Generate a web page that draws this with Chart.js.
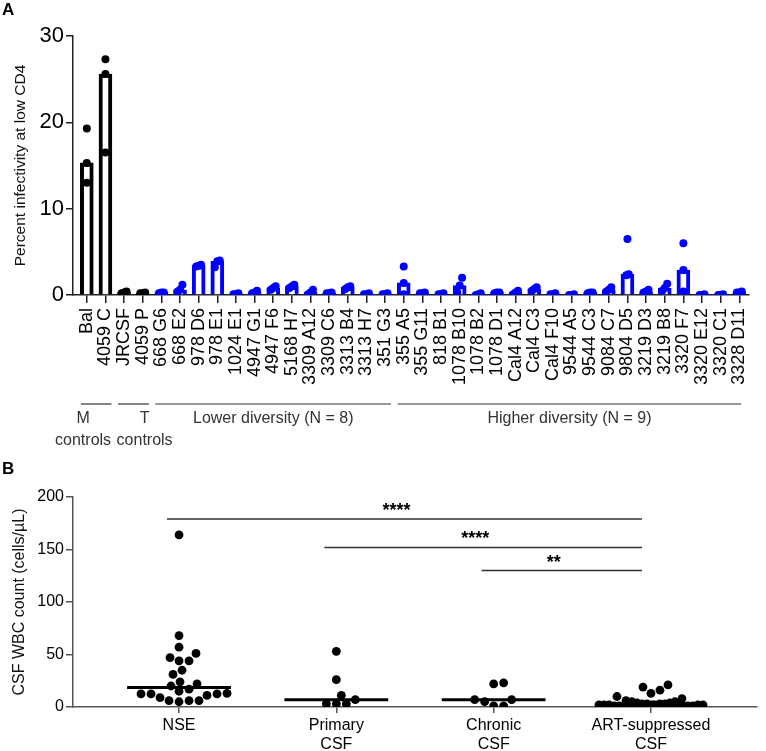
<!DOCTYPE html>
<html>
<head>
<meta charset="utf-8">
<script src="https://cdn.jsdelivr.net/npm/chart.js@4.4.1/dist/chart.umd.min.js"></script>
<style>
    html, body { margin: 0; padding: 0; background: #fff; }
    #wrap { position: relative; width: 766px; height: 751px; font-family: 'Liberation Sans', Arial, sans-serif; }
    #chartA { position: absolute; left: 0; top: 0; }
    #chartB { position: absolute; left: 0; top: 460px; }
    .panel { position: absolute; font-weight: bold; font-size: 17px; color: #000; line-height: 20px; }
</style>
</head>
<body>
<div id="wrap">
    <canvas id="chartA" width="766" height="460"></canvas>
    <canvas id="chartB" width="766" height="291"></canvas>
    <div class="panel" style="left:2px;top:0px">A</div>
    <div class="panel" style="left:2px;top:459px">B</div>
</div>
<script>
// Panel A: percent infectivity at low CD4 (3 replicates per isolate, bar = median)
const isolateLabels = ['Bal', '4059 C', 'JRCSF', '4059 P', '668 G6', '668 E2', '978 D6', '978 E1',
    '1024 E1', '4947 G1', '4947 F6', '5168 H7', '3309 A12', '3309 C6', '3313 B4', '3313 H7', '351 G3',
    '355 A5', '355 G11', '818 B1', '1078 B10', '1078 B2', '1078 D1', 'Cal4 A12', 'Cal4 C3', 'Cal4 F10',
    '9544 A5', '9544 C3', '9084 C7', '9804 D5', '3219 D3', '3219 B8', '3320 F7', '3320 E12', '3320 C1', '3328 D11'];
const rep1 = [19.3, 27.3, 0.4, 0.3, 0.3, 1.2, 3.5, 4.0, 0.2, 0.5, 1.0, 1.2, 0.6, 0.3, 1.0, 0.2, 0.2,
    3.3, 0.3, 0.2, 2.0, 0.2, 0.3, 0.5, 0.9, 0.2, 0.1, 0.3, 0.9, 6.5, 0.6, 1.3, 6.0, 0.1, 0.1, 0.4];
const rep2 = [15.3, 25.6, 0.3, 0.2, 0.3, 0.6, 3.4, 3.9, 0.1, 0.3, 0.8, 1.0, 0.3, 0.2, 0.9, 0.1, 0.1,
    1.4, 0.2, 0.1, 1.1, 0.1, 0.3, 0.3, 0.7, 0.1, 0.0, 0.3, 0.6, 2.4, 0.4, 0.8, 2.9, 0.0, 0.0, 0.3];
const rep3 = [13.0, 16.5, 0.2, 0.2, 0.2, 0.4, 3.3, 3.2, 0.1, 0.2, 0.6, 0.8, 0.1, 0.2, 0.7, 0.1, 0.1,
    0.1, 0.2, 0.1, 0.3, 0.0, 0.2, 0.1, 0.5, 0.1, 0.0, 0.2, 0.4, 2.3, 0.3, 0.5, 0.4, 0.0, 0.0, 0.3];
const yTicksA = [0, 10, 20, 30];
const controlCount = 4;
const groupsA = [
    { text: ['M', 'controls'], from: 0, to: 1 },
    { text: ['T', 'controls'], from: 2, to: 3 },
    { text: ['Lower diversity (N = 8)'], from: 4, to: 16 },
    { text: ['Higher diversity (N = 9)'], from: 17, to: 35 }
];

// Panel B: CSF WBC count
const groupLabelsB = [['NSE'], ['Primary', 'CSF'], ['Chronic', 'CSF'], ['ART-suppressed', 'CSF']];
const nseWbc = [164, 68, 57, 51, 47, 44, 44, 35, 31, 24, 22, 20, 17, 15, 13, 12.5, 12.5, 12.5, 11, 9, 6, 6, 6, 5];
const primaryWbc = [53, 26, 11, 7, 3, 3, 3];
const chronicWbc = [23, 22, 7, 7, 5, 1, 1];
const artWbc = [21, 19, 16, 13, 10, 8, 6, 5, 5, 4, 4, 3, 3, 3, 3,
    2, 2, 2, 2, 2, 2, 2, 2, 1, 1, 1, 1, 1, 1, 1, 1, 1, 1, 1, 1, 1, 1, 1, 1,
    0, 0, 0, 0, 0, 0, 0, 0, 0, 0, 0, 0, 0, 0, 0, 0, 0, 0, 0, 0, 0, 0];
const yTicksB = [0, 50, 100, 150, 200];
const comparisons = [
    { from: 0, to: 3, y: 179, stars: '****' },
    { from: 1, to: 3, y: 152, stars: '****' },
    { from: 2, to: 3, y: 130, stars: '**' }
];

Chart.defaults.font.family = "'Liberation Sans', Arial, sans-serif";
Chart.defaults.color = '#000';
Chart.defaults.animation = false;
Chart.defaults.plugins.legend.display = false;
Chart.defaults.plugins.tooltip.enabled = false;

const BLUE = '#0000ff';
const colorFor = i => i < controlCount ? '#000000' : BLUE;

function medianOf(arr) {
    const s = [...arr].sort((a, b) => a - b);
    const m = Math.floor(s.length / 2);
    return s.length % 2 ? s[m] : (s[m - 1] + s[m]) / 2;
}

// nudge replicate dots sideways when they sit on top of each other
function spreadDots(vals, closeBy, step) {
    const order = vals.map((v, k) => k).sort((a, b) => vals[a] - vals[b]);
    const offs = new Array(vals.length).fill(0);
    let cluster = [order[0]];
    const flush = () => cluster.forEach((k, j) => { offs[k] = (j - (cluster.length - 1) / 2) * step; });
    for (let j = 1; j < order.length; j++) {
        if (vals[order[j]] - vals[cluster[cluster.length - 1]] < closeBy) cluster.push(order[j]);
        else { flush(); cluster = [order[j]]; }
    }
    flush();
    return offs;
}

const replicates = isolateLabels.map((_, i) => [rep1[i], rep2[i], rep3[i]]);
const barData = replicates.map((r, i) => ({ x: i, y: medianOf(r) }));
const dotData = [];
const dotColors = [];
replicates.forEach((r, i) => {
    const offs = spreadDots(r, 0.9, 0.13);
    r.forEach((v, k) => { dotData.push({ x: i + offs[k], y: v }); dotColors.push(colorFor(i)); });
});

// group brackets under the isolate names
const groupTextAt = [-0.2, 3.1, null, null];
const groupLabelPlugin = {
    id: 'groupLabels',
    afterDraw(chart) {
        const ctx = chart.ctx;
        const xs = chart.scales.x;
        const base = chart.chartArea.bottom;
        ctx.save();
        ctx.strokeStyle = '#333';
        ctx.lineWidth = 1.2;
        ctx.fillStyle = '#333';
        ctx.font = "16px 'Liberation Sans', Arial, sans-serif";
        ctx.textAlign = 'center';
        ctx.textBaseline = 'middle';
        groupsA.forEach((g, gi) => {
            const x1 = xs.getPixelForValue(g.from) - 6;
            const x2 = Math.min(xs.getPixelForValue(g.to) + 6, xs.right - 8);
            ctx.beginPath();
            ctx.moveTo(x1, base + 109);
            ctx.lineTo(x2, base + 109);
            ctx.stroke();
            const tx = groupTextAt[gi] !== null ? xs.getPixelForValue(groupTextAt[gi]) : (x1 + x2) / 2;
            g.text.forEach((t, li) => ctx.fillText(t, tx, base + 124 + li * 22));
        });
        ctx.restore();
    }
};

new Chart(document.getElementById('chartA'), {
    type: 'bar',
    data: {
        datasets: [{
            type: 'scatter',
            data: dotData,
            pointRadius: 4,
            pointBackgroundColor: dotColors,
            pointBorderColor: dotColors,
            pointBorderWidth: 0,
            order: 0
        }, {
            data: barData,
            backgroundColor: '#ffffff',
            borderColor: isolateLabels.map((_, i) => colorFor(i)),
            borderWidth: 4,
            barThickness: 13,
            order: 1
        }]
    },
    options: {
        responsive: false,
        layout: { padding: { top: 36, right: 6, left: 0, bottom: 0 } },
        scales: {
            x: {
                type: 'linear',
                min: -0.74,
                max: 35.53,
                offset: false,
                afterBuildTicks: s => { s.ticks = isolateLabels.map((_, i) => ({ value: i })); },
                afterFit: s => { s.height = 165; },
                ticks: {
                    autoSkip: false,
                    minRotation: 90,
                    maxRotation: 90,
                    padding: 5,
                    color: '#000',
                    font: { size: 18 },
                    callback: v => isolateLabels[v]
                },
                grid: { drawOnChartArea: false, offset: false, tickLength: 8, color: '#222', lineWidth: 1.5 },
                border: { display: true, color: '#222', width: 1.5 }
            },
            y: {
                min: 0,
                max: 30,
                afterBuildTicks: s => { s.ticks = yTicksA.map(v => ({ value: v })); },
                afterFit: s => { s.width = 73; },
                ticks: { padding: 2, color: '#000', font: { size: 22 } },
                grid: { drawOnChartArea: false, tickLength: 7, color: '#222', lineWidth: 1.5 },
                border: { display: true, color: '#222', width: 1.5 },
                title: {
                    display: true,
                    text: 'Percent infectivity at low CD4',
                    color: '#111',
                    font: { size: 15.5 },
                    padding: { top: 11, bottom: 0 }
                }
            }
        }
    },
    plugins: [groupLabelPlugin]
});

// Panel B
const groupsB = [nseWbc, primaryWbc, chronicWbc, artWbc];

function swarmOffsets(vals, yScale, xScale, diameter, maxHalf) {
    const pxPerUnit = Math.abs(xScale.getPixelForValue(1) - xScale.getPixelForValue(0));
    const order = vals.map((v, k) => k).sort((a, b) => vals[a] - vals[b]);
    const placed = [];
    const out = new Array(vals.length).fill(0);
    order.forEach(k => {
        const py = yScale.getPixelForValue(vals[k]);
        let best = 0, bestGap = -1;
        for (let s = 0; s <= maxHalf * 2; s++) {
            const dx = s === 0 ? 0 : (s % 2 ? (s + 1) / 2 : -s / 2);
            let gap = Infinity;
            placed.forEach(p => { gap = Math.min(gap, Math.hypot(p.x - dx, p.y - py)); });
            if (gap >= diameter) { best = dx; bestGap = gap; break; }
            if (gap > bestGap + 0.5) { best = dx; bestGap = gap; }
        }
        placed.push({ x: best, y: py });
        out[k] = best / pxPerUnit;
    });
    return out;
}

const medianLine = [];
groupsB.forEach((vals, g) => {
    const m = medianOf(vals);
    medianLine.push({ x: g - 0.33, y: m }, { x: g + 0.33, y: m }, { x: g + 0.5, y: null });
});

const sigPlugin = {
    id: 'significance',
    afterDraw(chart) {
        const ctx = chart.ctx;
        const xs = chart.scales.x, ys = chart.scales.y;
        ctx.save();
        ctx.strokeStyle = '#333';
        ctx.lineWidth = 1.5;
        ctx.fillStyle = '#000';
        ctx.font = "bold 18px 'Liberation Sans', Arial, sans-serif";
        ctx.textAlign = 'center';
        ctx.textBaseline = 'alphabetic';
        comparisons.forEach(c => {
            const y = ys.getPixelForValue(c.y);
            const x1 = xs.getPixelForValue(c.from) - 12;
            const x2 = xs.getPixelForValue(c.to) - 9;
            ctx.beginPath();
            ctx.moveTo(x1, y);
            ctx.lineTo(x2, y);
            ctx.stroke();
            ctx.fillText(c.stars, (x1 + x2) / 2 - 8, y - 3);
        });
        ctx.restore();
    }
};

const chartB = new Chart(document.getElementById('chartB'), {
    type: 'scatter',
    data: {
        datasets: [{
            data: groupsB.flatMap((vals, g) => vals.map(v => ({ x: g, y: v }))),
            pointRadius: 4.4,
            pointBackgroundColor: '#000',
            pointBorderWidth: 0,
            order: 1
        }, {
            type: 'line',
            data: medianLine,
            borderColor: '#000',
            borderWidth: 3,
            pointRadius: 0,
            spanGaps: false,
            order: 0
        }]
    },
    options: {
        responsive: false,
        layout: { padding: { top: 37, right: 9, left: 0, bottom: 0 } },
        scales: {
            x: {
                type: 'linear',
                min: -0.674,
                max: 3.674,
                afterBuildTicks: s => { s.ticks = groupLabelsB.map((_, i) => ({ value: i })); },
                afterFit: s => { s.height = 44; },
                ticks: { padding: 3, color: '#000', font: { size: 16 }, maxRotation: 0, callback: v => groupLabelsB[v] },
                grid: { drawOnChartArea: false, tickLength: 6, color: '#555', lineWidth: 1.5 },
                border: { display: true, color: '#555', width: 1.5 }
            },
            y: {
                min: 0,
                max: 200,
                afterBuildTicks: s => { s.ticks = yTicksB.map(v => ({ value: v })); },
                afterFit: s => { s.width = 73; },
                ticks: { padding: 2, color: '#000', font: { size: 16 } },
                grid: { drawOnChartArea: false, tickLength: 7, color: '#555', lineWidth: 1.5 },
                border: { display: true, color: '#555', width: 1.5 },
                title: {
                    display: true,
                    text: 'CSF WBC count (cells/µL)',
                    color: '#111',
                    font: { size: 16 },
                    padding: { top: 10, bottom: 0 }
                }
            }
        }
    },
    plugins: [sigPlugin]
});

// second pass: spread the points sideways now that the scales exist
chartB.data.datasets[0].data = groupsB.flatMap((vals, g) => {
    const offs = swarmOffsets(vals, chartB.scales.y, chartB.scales.x, 9.5, 52);
    return vals.map((v, k) => ({ x: g + offs[k], y: v }));
});
chartB.update('none');
</script>
</body>
</html>
